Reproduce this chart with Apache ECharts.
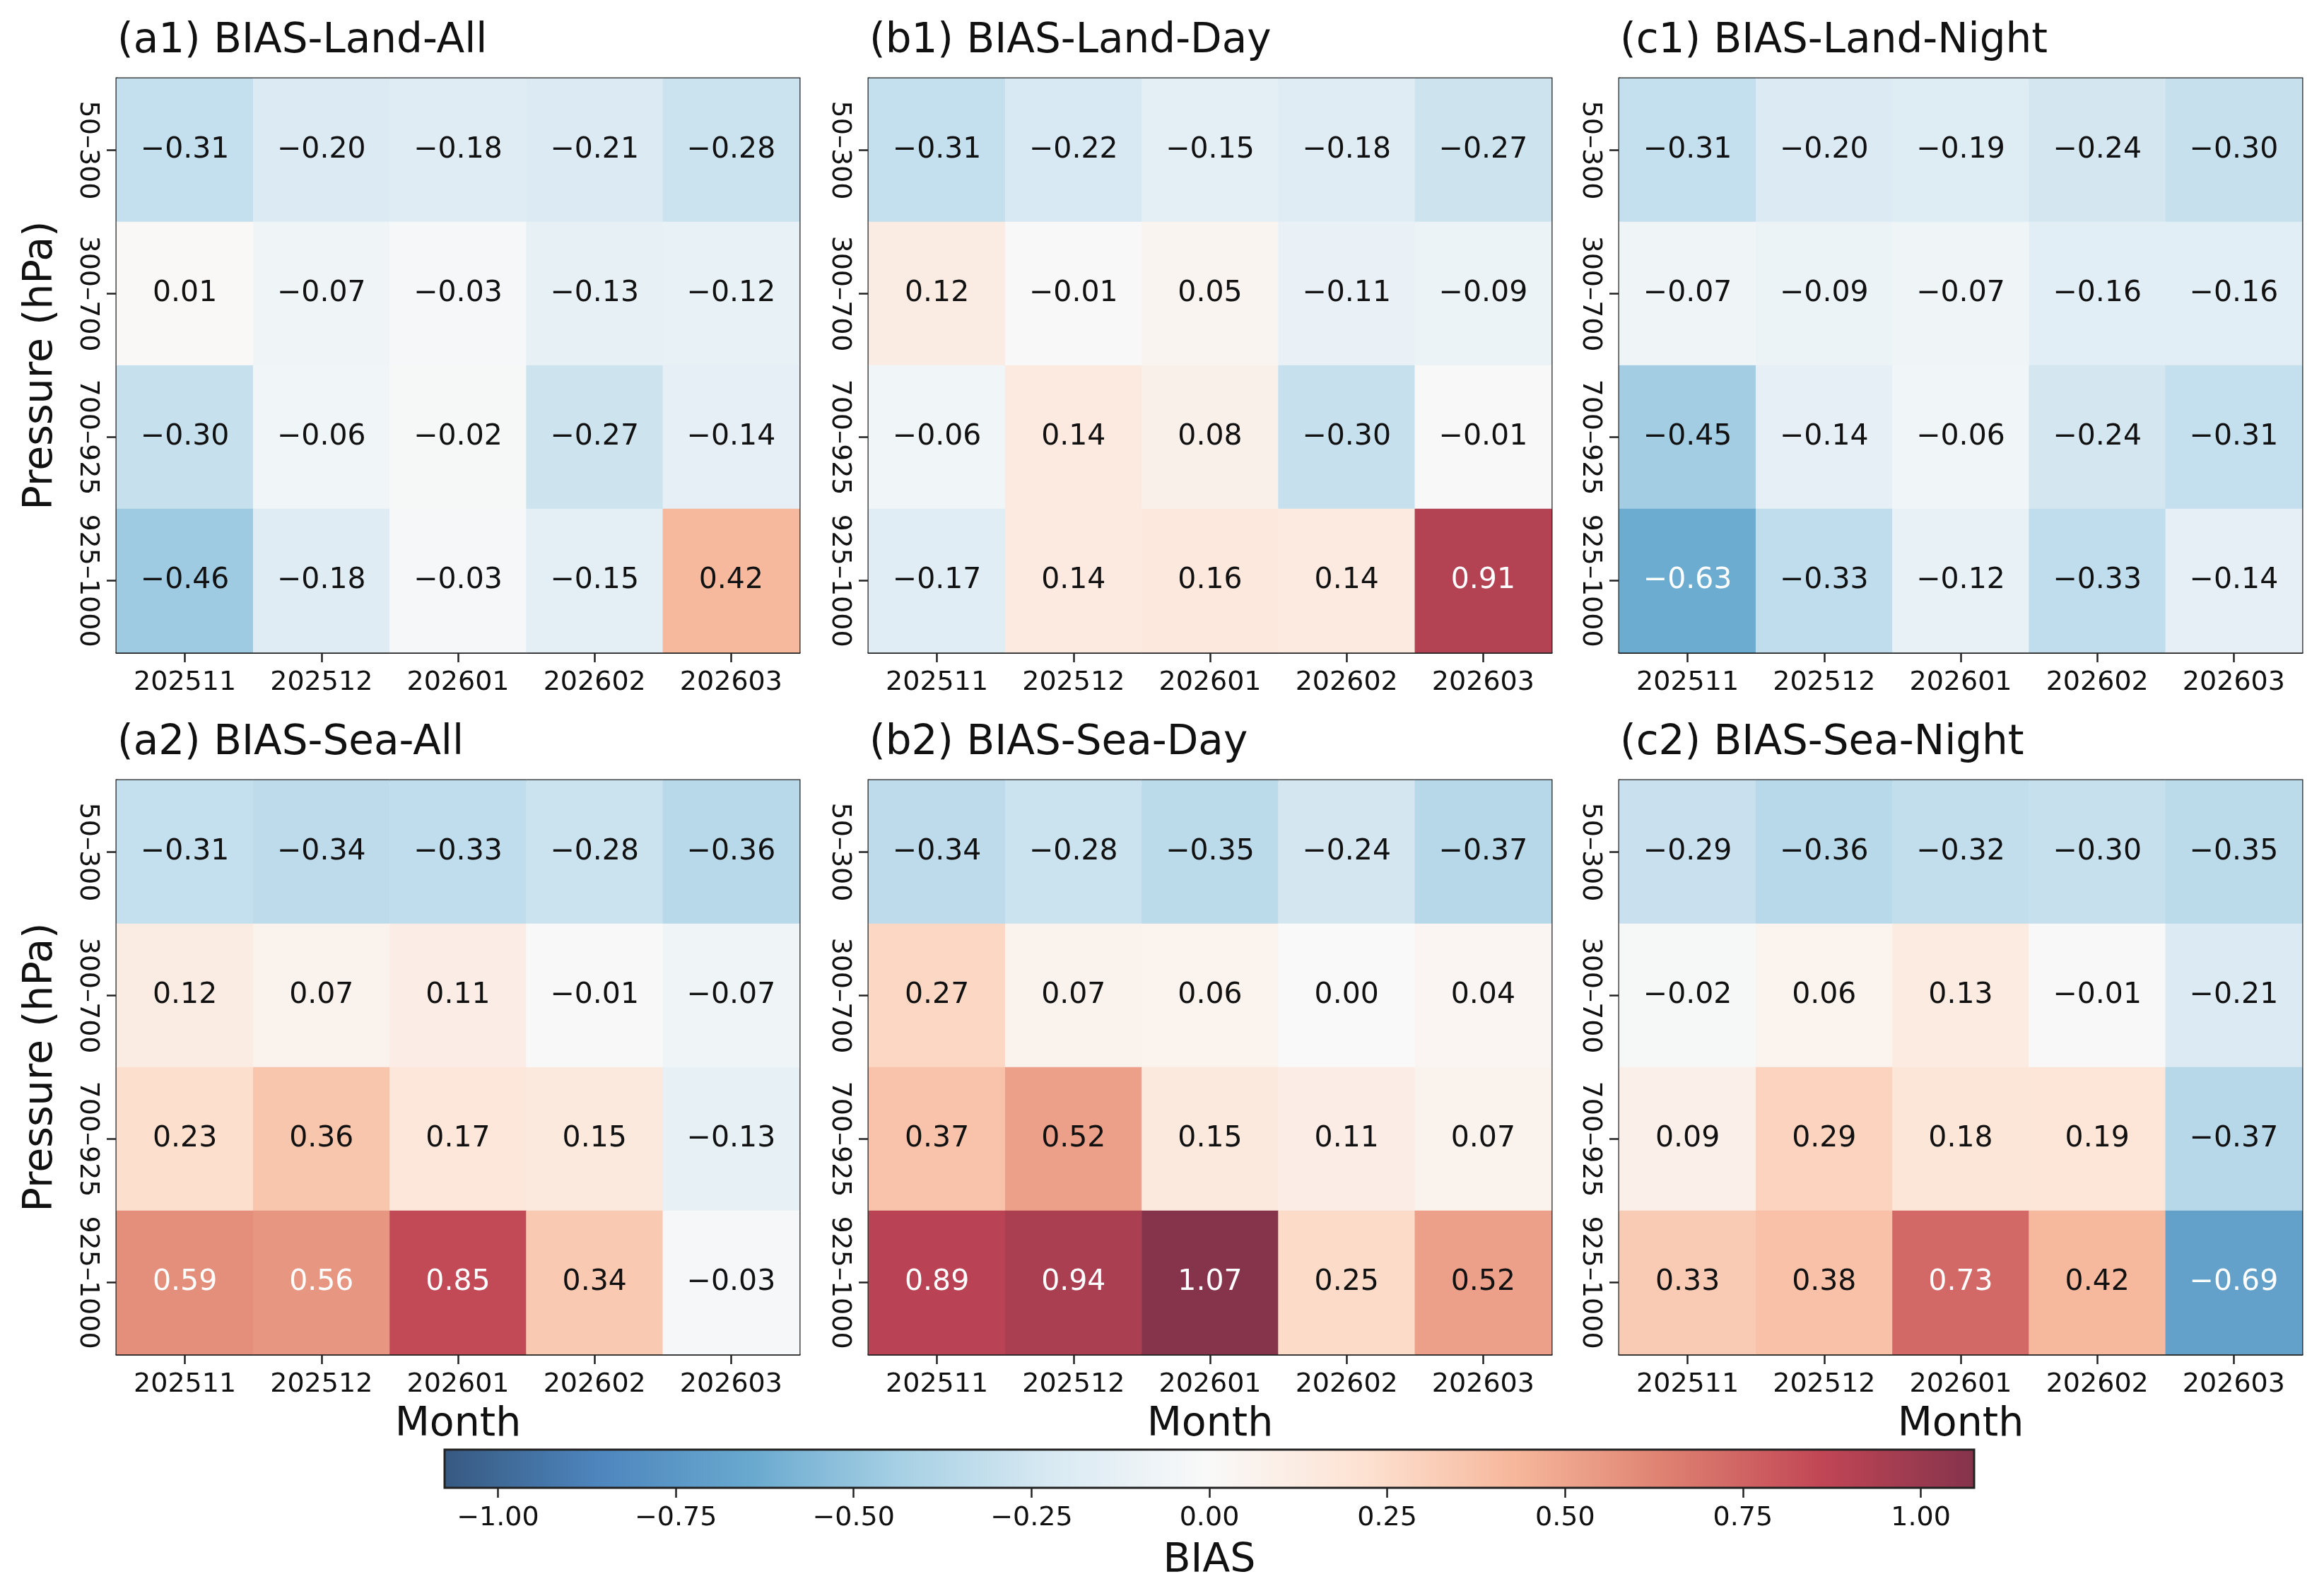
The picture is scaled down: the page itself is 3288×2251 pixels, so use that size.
<!DOCTYPE html>
<html>
<head>
<meta charset="utf-8">
<title>BIAS heatmaps</title>
<script src="https://cdn.jsdelivr.net/npm/echarts@6/dist/echarts.min.js"></script>
<style>
  html, body { margin: 0; padding: 0; background: #fff; }
  #main { width: 3288px; height: 2251px; }
</style>
</head>
<body>
<div id="main"></div>
<script>
// categories
var months = ['202511', '202512', '202601', '202602', '202603'];
var levels = ['50\u2013300', '300\u2013700', '700\u2013925', '925\u20131000'];
var panelTitles = [
  '(a1) BIAS-Land-All', '(b1) BIAS-Land-Day', '(c1) BIAS-Land-Night',
  '(a2) BIAS-Sea-All', '(b2) BIAS-Sea-Day', '(c2) BIAS-Sea-Night'
];

// values, one row per pressure layer (top to bottom), one column per month
var landAll = [
  [-0.31, -0.20, -0.18, -0.21, -0.28],
  [0.01, -0.07, -0.03, -0.13, -0.12],
  [-0.30, -0.06, -0.02, -0.27, -0.14],
  [-0.46, -0.18, -0.03, -0.15, 0.42]
];
var landDay = [
  [-0.31, -0.22, -0.15, -0.18, -0.27],
  [0.12, -0.01, 0.05, -0.11, -0.09],
  [-0.06, 0.14, 0.08, -0.30, -0.01],
  [-0.17, 0.14, 0.16, 0.14, 0.91]
];
var landNight = [
  [-0.31, -0.20, -0.19, -0.24, -0.30],
  [-0.07, -0.09, -0.07, -0.16, -0.16],
  [-0.45, -0.14, -0.06, -0.24, -0.31],
  [-0.63, -0.33, -0.12, -0.33, -0.14]
];
var seaAll = [
  [-0.31, -0.34, -0.33, -0.28, -0.36],
  [0.12, 0.07, 0.11, -0.01, -0.07],
  [0.23, 0.36, 0.17, 0.15, -0.13],
  [0.59, 0.56, 0.85, 0.34, -0.03]
];
var seaDay = [
  [-0.34, -0.28, -0.35, -0.24, -0.37],
  [0.27, 0.07, 0.06, 0.00, 0.04],
  [0.37, 0.52, 0.15, 0.11, 0.07],
  [0.89, 0.94, 1.07, 0.25, 0.52]
];
var seaNight = [
  [-0.29, -0.36, -0.32, -0.30, -0.35],
  [-0.02, 0.06, 0.13, -0.01, -0.21],
  [0.09, 0.29, 0.18, 0.19, -0.37],
  [0.33, 0.38, 0.73, 0.42, -0.69]
];

// colorbar
var biasMin = -1.075;
var biasMax = 1.075;
var cbTicks = [-1.00, -0.75, -0.50, -0.25, 0.00, 0.25, 0.50, 0.75, 1.00];

// RdBu_r faded at alpha 0.8 over white
var rdbuFaded = ['#375981', '#4d85bd', '#69a9cf', '#a8d1e5', '#daeaf3', '#f9f9f9',
  '#fde2d2', '#f6b79b', '#de8071', '#c14655', '#85334c'];

var FONT = 'DejaVu Sans';
var panels = [landAll, landDay, landNight, seaAll, seaDay, seaNight];

function fmt(v) {
  var s = Math.abs(v).toFixed(2);
  return (v < 0 && s !== '0.00') ? '\u2212' + s : s;
}

var chart = echarts.init(document.getElementById('main'), null, { renderer: 'canvas' });

var colLeft = [165, 1229, 2291];
var rowTop = [111, 1104];
var gw = 966, gh = 812;

var grids = [], xAxes = [], yAxes = [], series = [], titles = [];

panels.forEach(function (mat, i) {
  var col = i % 3, row = Math.floor(i / 3);
  grids.push({
    left: colLeft[col], top: rowTop[row], width: gw, height: gh,
    show: true, borderColor: '#222', borderWidth: 3, backgroundColor: 'transparent'
  });
  titles.push({
    text: panelTitles[i],
    left: colLeft[col] - 4, top: rowTop[row] - 86,
    textStyle: { fontFamily: FONT, fontSize: 58, fontWeight: 'normal', color: '#111' }
  });
  xAxes.push({
    type: 'category', gridIndex: i, data: months,
    name: row === 1 ? 'Month' : '', nameLocation: 'middle', nameGap: 72,
    nameTextStyle: { fontFamily: FONT, fontSize: 57, color: '#111' },
    axisLine: { show: true, lineStyle: { color: '#222', width: 3 } },
    axisTick: { show: true, alignWithLabel: true, length: 14, lineStyle: { color: '#222', width: 2.5 } },
    axisLabel: { fontFamily: FONT, fontSize: 38, color: '#111', margin: 24, interval: 0 },
    splitLine: { show: false }
  });
  yAxes.push({
    type: 'category', gridIndex: i, data: levels, inverse: true,
    name: col === 0 ? 'Pressure (hPa)' : '', nameLocation: 'middle', nameGap: 78,
    nameRotate: 90,
    nameTextStyle: { fontFamily: FONT, fontSize: 57, color: '#111' },
    axisLine: { show: true, lineStyle: { color: '#222', width: 3 } },
    axisTick: { show: true, alignWithLabel: true, length: 14, lineStyle: { color: '#222', width: 2.5 }, interval: 0 },
    axisLabel: { fontFamily: FONT, fontSize: 38, color: '#111', margin: 22, rotate: -90, interval: 0 },
    splitLine: { show: false }
  });
  var data = [];
  mat.forEach(function (rowVals, yi) {
    rowVals.forEach(function (v, xi) {
      data.push({
        value: [xi, yi, v],
        label: { color: Math.abs(v) > 0.5 * 1.07 ? '#fff' : '#111' }
      });
    });
  });
  series.push({
    type: 'heatmap', xAxisIndex: i, yAxisIndex: i, data: data,
    label: {
      show: true, fontFamily: FONT, fontSize: 41,
      formatter: function (p) { return fmt(p.value[2]); }
    },
    emphasis: { disabled: true }
  });
});

// colorbar axis frame
grids.push({
  left: 629, top: 2051, width: 2164, height: 54, z: 10,
  show: true, borderColor: '#222', borderWidth: 3, backgroundColor: 'transparent'
});
xAxes.push({
  type: 'value', gridIndex: 6, min: biasMin, max: biasMax,
  name: 'BIAS', nameLocation: 'middle', nameGap: 76,
  nameTextStyle: { fontFamily: FONT, fontSize: 57, color: '#111' },
  axisLine: { show: false },
  axisTick: { show: true, length: 14, customValues: cbTicks, lineStyle: { color: '#222', width: 2.5 } },
  axisLabel: {
    fontFamily: FONT, fontSize: 38, color: '#111', margin: 24, customValues: cbTicks,
    formatter: function (v) { return fmt(v); }
  },
  splitLine: { show: false }
});
yAxes.push({ type: 'value', gridIndex: 6, show: false, min: 0, max: 1 });

var option = {
  backgroundColor: '#fff',
  animation: false,
  title: titles,
  grid: grids,
  xAxis: xAxes,
  yAxis: yAxes,
  visualMap: {
    type: 'continuous', min: biasMin, max: biasMax,
    seriesIndex: [0, 1, 2, 3, 4, 5],
    orient: 'horizontal', left: 629, top: 2051, padding: 0,
    itemWidth: 54, itemHeight: 2164,
    calculable: false, text: null, showLabel: false,
    inRange: { color: rdbuFaded }
  },
  series: series
};

chart.setOption(option);
</script>
</body>
</html>
